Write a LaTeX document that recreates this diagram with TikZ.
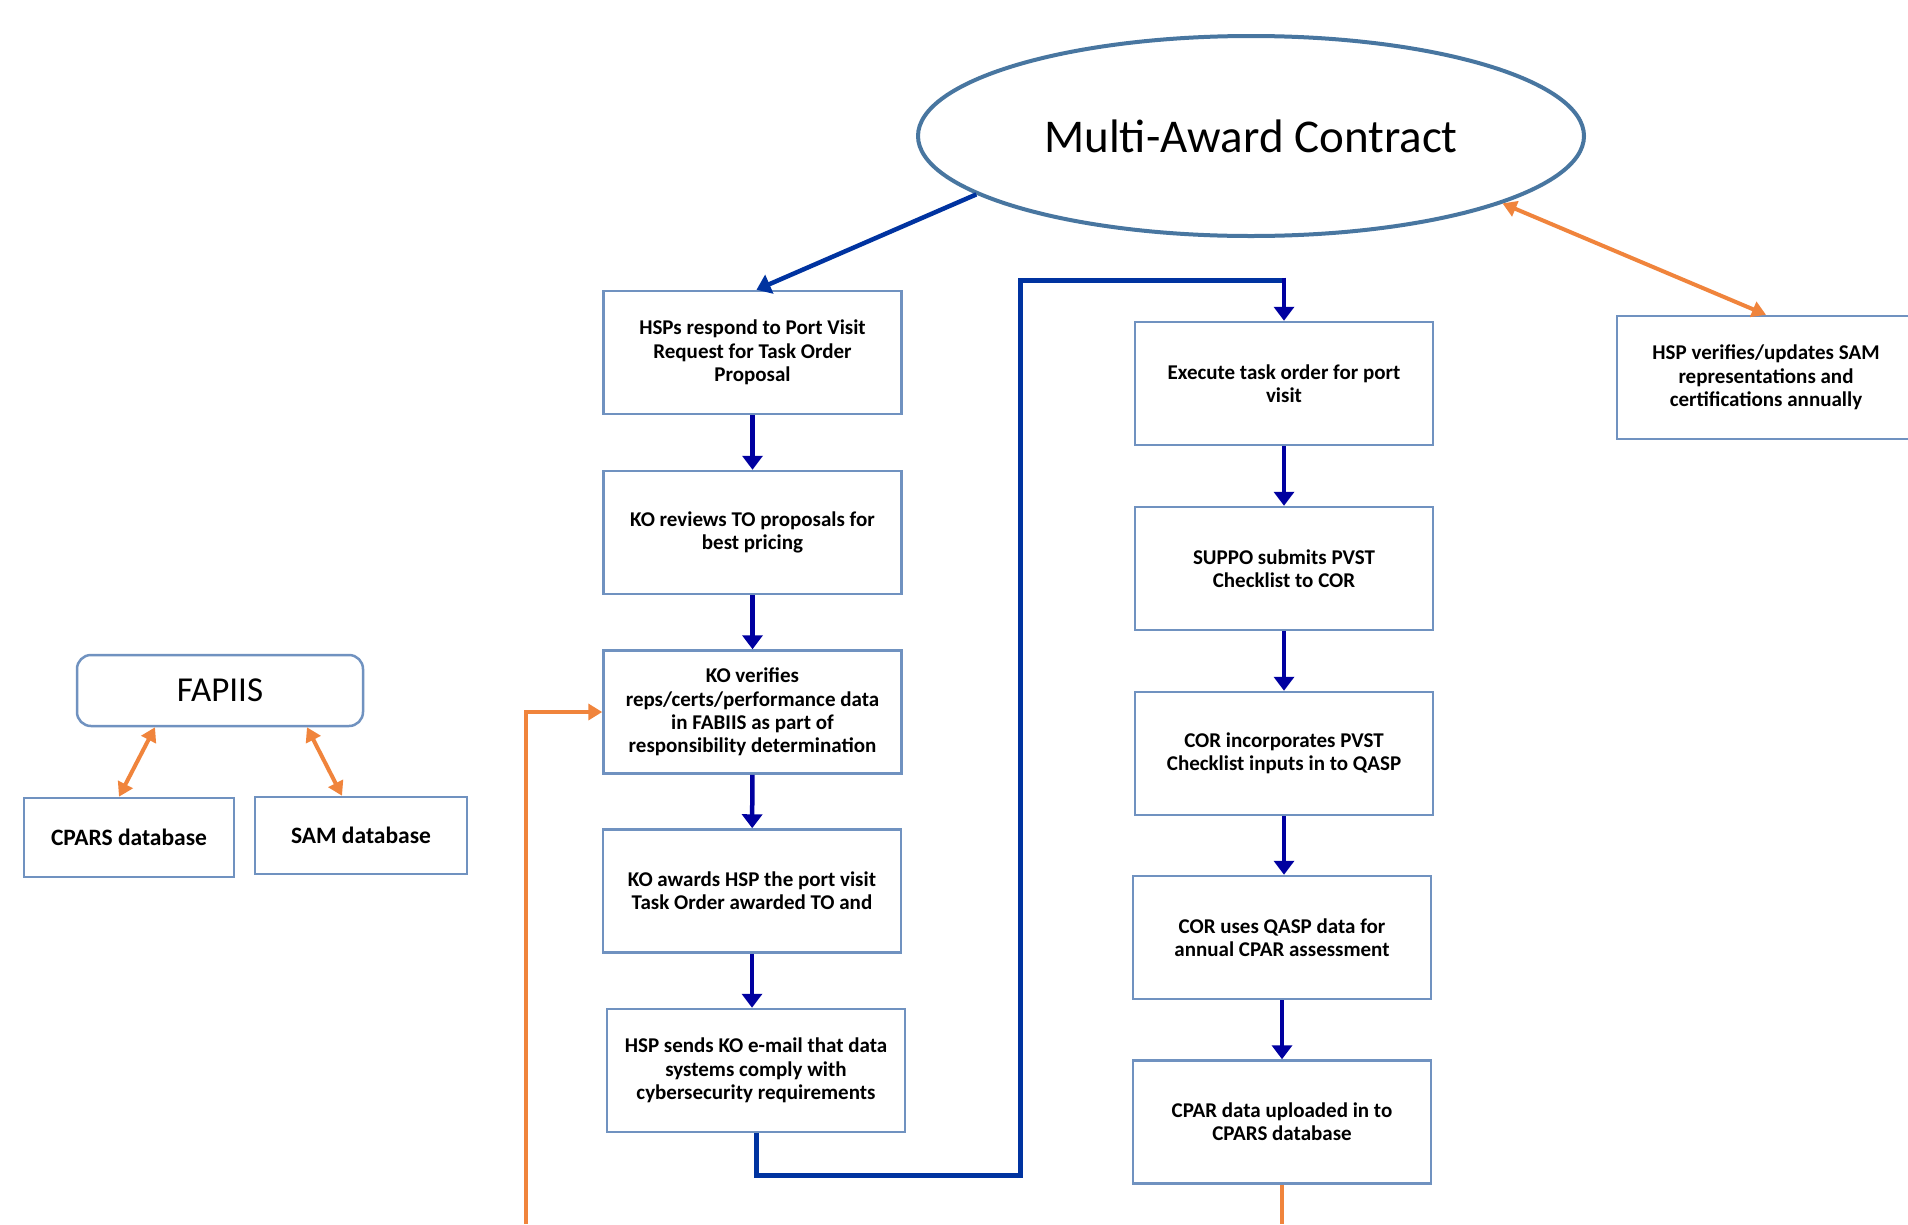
\documentclass[tikz,border=0pt]{standalone}
\usepackage{fontspec}
\setmainfont{Carlito}
\usetikzlibrary{arrows.meta,shapes.geometric}
\definecolor{boxc}{RGB}{112,146,192}
\definecolor{ellc}{RGB}{72,118,160}
\definecolor{arrb}{RGB}{0,0,160}
\definecolor{loopb}{RGB}{0,51,160}
\definecolor{orng}{RGB}{240,132,60}
\tikzset{
  stepbox/.style={draw=boxc, line width=2.5pt, fill=white, minimum width=298pt, minimum height=123pt, inner sep=0pt, align=center, font=\bfseries\fontsize{21}{23.3}\selectfont},
  dbbox/.style={draw=boxc, line width=2.5pt, fill=white, inner sep=0pt, align=center, font=\bfseries\fontsize{23.5}{26}\selectfont},
  blarrow/.style={draw=arrb, line width=4.5pt, -{Triangle[width=20pt,length=14pt]}},
  orarrow/.style={draw=orng, line width=4pt, {Triangle[width=16pt,length=14pt]}-{Triangle[width=16pt,length=14pt]}},
  orline/.style={draw=orng, line width=4pt},
}
\begin{document}
\begin{tikzpicture}[x=1pt,y=-1pt]
\useasboundingbox[fill=white] (0,0) rectangle (1908,1224);

\node[ellipse, draw=ellc, line width=4pt, minimum width=666pt, minimum height=200pt, inner sep=0pt, font=\fontsize{47}{54}\selectfont] (mac) at (1251,136) {Multi-Award Contract};

\node[stepbox] (b1) at (752.5,352.5) {HSPs respond to Port Visit\\Request for Task Order\\Proposal};
\node[stepbox] (b2) at (752.5,532.5) {KO reviews TO proposals for\\best pricing};
\node[stepbox] (b3) at (752.5,712) {KO verifies\\reps/certs/performance data\\in FABIIS as part of\\responsibility determination};
\node[stepbox] (b4) at (752,891) {KO awards HSP the port visit\\Task Order awarded TO and};
\node[stepbox] (b5) at (756,1070.5) {HSP sends KO e-mail that data\\systems comply with\\cybersecurity requirements};

\node[stepbox] (b6) at (1284,383.5) {Execute task order for port\\visit};
\node[stepbox] (b7) at (1284,568.5) {SUPPO submits PVST\\Checklist to COR};
\node[stepbox] (b8) at (1284,753.5) {COR incorporates PVST\\Checklist inputs in to QASP};
\node[stepbox] (b9) at (1282,937.5) {COR uses QASP data for\\annual CPAR assessment};
\node[stepbox] (b10) at (1282,1122) {CPAR data uploaded in to\\CPARS database};

\node[stepbox] (rb) at (1766,377.5) {HSP verifies/updates SAM\\representations and\\certifications annually};

\node[draw=boxc, line width=2.5pt, rounded corners=14pt, minimum width=286pt, minimum height=71pt, inner sep=0pt, font=\fontsize{35}{40}\selectfont] (fap) at (220,690.5) {FAPIIS};
\node[dbbox, minimum width=210pt, minimum height=79pt] (cp) at (129,837.5) {CPARS database};
\node[dbbox, minimum width=212pt, minimum height=77pt] (sam) at (361,835.5) {SAM database};

% flow arrows
\draw[draw=loopb, line width=4.5pt, -{Triangle[width=20pt,length=14pt]}] (mac.192) -- ([xshift=4pt]b1.north);
\draw[blarrow] (b1) -- (b2);
\draw[blarrow] (b2) -- (b3);
\draw[blarrow] (b3) -- (b4);
\draw[blarrow] (b4.south) -- (b4.south |- b5.north);
\draw[blarrow] (b6) -- (b7);
\draw[blarrow] (b7) -- (b8);
\draw[blarrow] (b8.south) -- (b8.south |- b9.north);
\draw[blarrow] (b9) -- (b10);

% loop from b5 to b6
\coordinate (l2) at (1020,1175);
\coordinate (l3) at (1020,280);
\draw[draw=loopb, line width=5pt] (b5.south) |- (l2) -- (l3) -- (l3 -| b6.north);
\draw[blarrow] ([yshift=2.5pt]l3 -| b6.north) -- (b6.north);

% orange connectors
\draw[orarrow] (mac.345) -- (rb.north);
\coordinate (o1) at (526,1224);
\draw[orline, -{Triangle[width=16pt,length=14pt]}] (o1) |- (b3.west);
\coordinate (o2) at (1281,1224);
\draw[orline] (b10.south) -- (b10.south |- o2);
\draw[orarrow] ([xshift=-65pt]fap.south) -- ([xshift=-10pt]cp.north);
\draw[orarrow] ([xshift=87pt]fap.south) -- ([xshift=-19pt]sam.north);
\end{tikzpicture}
\end{document}
